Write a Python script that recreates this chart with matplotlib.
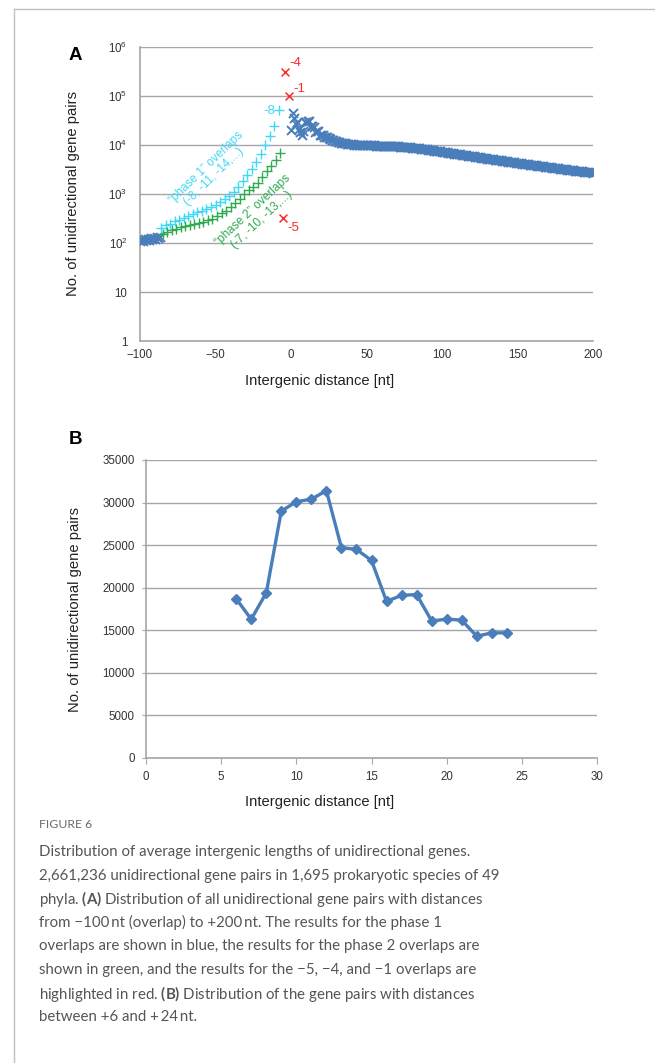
import matplotlib
matplotlib.use("Agg")
import matplotlib.pyplot as plt
from matplotlib.lines import Line2D
import numpy as np

# ---------------- data ----------------
# Panel A: blue series (distances -100..-87, and 0..200)
blue_neg_x = list(range(-100, -86))
blue_neg_y = [110, 118, 112, 120, 115, 122, 117, 125, 119, 128, 122, 130, 126, 135]

blue_pos_x = list(range(0, 201))
blue_pos_y = [20000, 44000, 35000, 27000, 30000, 21000,
              18700, 16300, 19400, 29000, 30100, 30400, 31400, 24700, 24500, 23200,
              18400, 19100, 19200, 16100, 16300, 16200, 14300, 14700, 14700,
              14000, 13400, 12900, 12500, 12200,
              11900, 11600, 11400, 11200, 11000, 10900, 10800, 10600, 10500, 10400,
              10300, 10250, 10200, 10150, 10100, 10050, 10000, 9980, 9950, 9920,
              9900, 9880, 9850, 9830, 9800, 9780, 9760, 9740, 9720, 9700,
              9680, 9650, 9620, 9600, 9570, 9540, 9500, 9470, 9440, 9400,
              9360, 9320, 9280, 9230, 9180, 9130, 9080, 9020, 8960, 8900,
              8840, 8780, 8710, 8640, 8570, 8500, 8430, 8360, 8280, 8200,
              8120, 8040, 7960, 7880, 7800, 7720, 7640, 7560, 7480, 7400,
              7320, 7240, 7160, 7080, 7000, 6930, 6850, 6780, 6700, 6630,
              6560, 6490, 6420, 6350, 6280, 6210, 6140, 6080, 6010, 5950,
              5890, 5830, 5770, 5710, 5650, 5590, 5530, 5470, 5410, 5350,
              5300, 5240, 5190, 5130, 5080, 5030, 4980, 4930, 4880, 4830,
              4780, 4730, 4680, 4630, 4580, 4530, 4490, 4440, 4400, 4350,
              4310, 4270, 4220, 4180, 4140, 4100, 4060, 4020, 3980, 3940,
              3900, 3860, 3830, 3790, 3750, 3720, 3680, 3650, 3610, 3580,
              3550, 3510, 3480, 3450, 3420, 3390, 3360, 3330, 3300, 3270,
              3240, 3210, 3180, 3150, 3120, 3100, 3070, 3040, 3010, 2990,
              2960, 2940, 2910, 2890, 2860, 2840, 2820, 2800, 2780, 2760, 2740]

# phase 1 overlaps (cyan)
phase1_x = list(range(-86, -7, 3))
phase1_y = [205, 230, 250, 275, 300, 330, 360, 390, 420, 460, 500, 550, 610, 690,
            790, 920, 1100, 1400, 1800, 2400, 3200, 4400, 6500, 10000, 15000, 24000, 52000]

# phase 2 overlaps (green)
phase2_x = list(range(-85, -6, 3))
phase2_y = [150, 165, 180, 195, 210, 225, 235, 245, 255, 270, 290, 315, 350, 400,
            460, 540, 650, 800, 1000, 1200, 1400, 1700, 2200, 2900, 3800, 5000, 7000]

# highlighted overlaps (red)
red_x = [-5, -4, -1]
red_y = [320, 310000, 100000]

# Panel B
b_x = list(range(6, 25))
b_y = [18700, 16300, 19400, 29000, 30100, 30400, 31400, 24700, 24500, 23200,
       18400, 19100, 19200, 16100, 16300, 16200, 14300, 14700, 14700]

a_yticks = [1, 10, 100, 1000, 10000, 100000, 1000000]
a_yticklabels = ["1", "10", r"10$^{2}$", r"10$^{3}$", r"10$^{4}$", r"10$^{5}$", r"10$^{6}$"]
a_xticks = [-100, -50, 0, 50, 100, 150, 200]
b_yticks = [0, 5000, 10000, 15000, 20000, 25000, 30000, 35000]
b_xticks = [0, 5, 10, 15, 20, 25, 30]

caption_lines = [
    "Distribution of average intergenic lengths of unidirectional genes.",
    "2,661,236 unidirectional gene pairs in 1,695 prokaryotic species of 49",
    "phyla. $\\bf{(A)}$ Distribution of all unidirectional gene pairs with distances",
    "from \u2212100\u2009nt (overlap) to +200\u2009nt. The results for the phase 1",
    "overlaps are shown in blue, the results for the phase 2 overlaps are",
    "shown in green, and the results for the \u22125, \u22124, and \u22121 overlaps are",
    "highlighted in red. $\\bf{(B)}$ Distribution of the gene pairs with distances",
    "between +6 and +\u200924\u2009nt.",
]

# ---------------- style ----------------
W, H = 655, 1063
BLUE = "#4a7ebb"
CYAN = "#3fd8f5"
GREEN = "#2eaa4f"
RED = "#ff2a2a"
GRID = "#a6a6a6"
plt.rcParams['font.family'] = ['Liberation Sans', 'DejaVu Sans']
plt.rcParams['mathtext.fontset'] = 'custom'
plt.rcParams['mathtext.rm'] = 'Liberation Sans'
plt.rcParams['mathtext.bf'] = 'Lato:bold'

fig = plt.figure(figsize=(W / 100, H / 100), dpi=100)

def fx(px):
    return px / W

def fy(py):
    return 1 - py / H

# page border lines
fig.add_artist(Line2D([fx(14), fx(655)], [fy(9), fy(9)], color="#c0c0c0", lw=1))
fig.add_artist(Line2D([fx(14), fx(14)], [fy(9), fy(1063)], color="#c0c0c0", lw=1))

def style_axes(ax):
    for s in ["top", "right"]:
        ax.spines[s].set_visible(False)
    for s in ["left", "bottom"]:
        ax.spines[s].set_color(GRID)
        ax.spines[s].set_linewidth(1.2)
    ax.grid(axis="y", color=GRID, lw=1.0)
    ax.set_axisbelow(True)
    ax.tick_params(colors="#333333", labelsize=8.3, length=3, width=0.8, color=GRID)

# ---------------- panel A ----------------
axA = fig.add_axes([fx(140), fy(341), fx(593) - fx(140), fy(47) - fy(341)])
axA.set_yscale("log")
axA.set_ylim(1, 1e6)
axA.set_xlim(-100, 200)
axA.scatter(blue_pos_x, blue_pos_y, marker="x", s=42, color=BLUE, lw=1.4, zorder=3)
axA.scatter(blue_neg_x, blue_neg_y, marker="x", s=42, color=BLUE, lw=1.4, zorder=3)
axA.scatter(phase1_x, phase1_y, marker="+", s=55, color=CYAN, lw=1.0, zorder=3)
axA.scatter(phase2_x, phase2_y, marker="+", s=55, color=GREEN, lw=1.0, zorder=3)
axA.scatter(red_x, red_y, marker="x", s=32, color=RED, lw=1.1, zorder=4)
axA.set_yticks(a_yticks)
axA.set_yticklabels(a_yticklabels)
axA.yaxis.set_minor_locator(matplotlib.ticker.NullLocator())
axA.set_xticks(a_xticks)
style_axes(axA)
axA.tick_params(axis="both", length=0)
axA.tick_params(axis="y", pad=9)
axA.tick_params(axis="x", pad=6)

axA.annotate("-4", (red_x[1], red_y[1]), xytext=(3, 2), textcoords="offset points",
             color=RED, fontsize=9.5, va="bottom")
axA.annotate("-1", (red_x[2], red_y[2]), xytext=(3, 1), textcoords="offset points",
             color=RED, fontsize=9.5, va="bottom")
axA.annotate("-5", (red_x[0], red_y[0]), xytext=(3, -3), textcoords="offset points",
             color=RED, fontsize=9.5, va="top")
axA.annotate("-8", (phase1_x[-1], phase1_y[-1]), xytext=(-3, -1), textcoords="offset points",
             color=CYAN, fontsize=9.5, ha="right", va="center")

fig.text(fx(210), fy(172), "\u201cphase 1\u201d overlaps\n(-8, -11, -14,...)", color=CYAN,
         fontsize=8.6, rotation=44, ha="center", va="center", linespacing=1.05)
fig.text(fx(257), fy(215), "\u201cphase 2\u201d overlaps\n(-7, -10, -13,...)", color=GREEN,
         fontsize=8.6, rotation=43, ha="center", va="center", linespacing=1.05)

fig.text(fx(320), fy(381), "Intergenic distance [nt]", fontsize=10.6, ha="center", va="center",
         color="#222222")
fig.text(fx(73), fy(194), "No. of unidirectional gene pairs", fontsize=10.6, rotation=90,
         ha="center", va="center", color="#222222")
fig.text(fx(75), fy(55), "A", fontsize=13.5, fontweight="bold", ha="center", va="center")

# ---------------- panel B ----------------
axB = fig.add_axes([fx(146), fy(758), fx(597) - fx(146), fy(460) - fy(758)])
axB.set_xlim(0, 30)
axB.set_ylim(0, 35000)
axB.plot(b_x, b_y, color=BLUE, lw=2.4, marker="D", ms=5.5, zorder=3)
axB.set_yticks(b_yticks)
axB.set_xticks(b_xticks)
style_axes(axB)
axB.tick_params(axis="y", length=3, pad=5)
axB.tick_params(axis="x", length=4, direction="out", pad=5)

fig.text(fx(320), fy(802), "Intergenic distance [nt]", fontsize=10.6, ha="center", va="center",
         color="#222222")
fig.text(fx(75), fy(610), "No. of unidirectional gene pairs", fontsize=10.6, rotation=90,
         ha="center", va="center", color="#222222")
fig.text(fx(75), fy(440), "B", fontsize=13.5, fontweight="bold", ha="center", va="center")

# ---------------- caption ----------------
fig.text(fx(39), fy(824), "FIGURE 6", fontsize=8.8, color="#6a6a6a", va="center",
         family=["Lato", "DejaVu Sans"])
for i, line in enumerate(caption_lines):
    fig.text(fx(39), fy(852 + i * 23.6), line, fontsize=10.8, color="#555555", va="center",
             family=["Lato", "DejaVu Sans"])

fig.savefig("out.png", dpi=100)
